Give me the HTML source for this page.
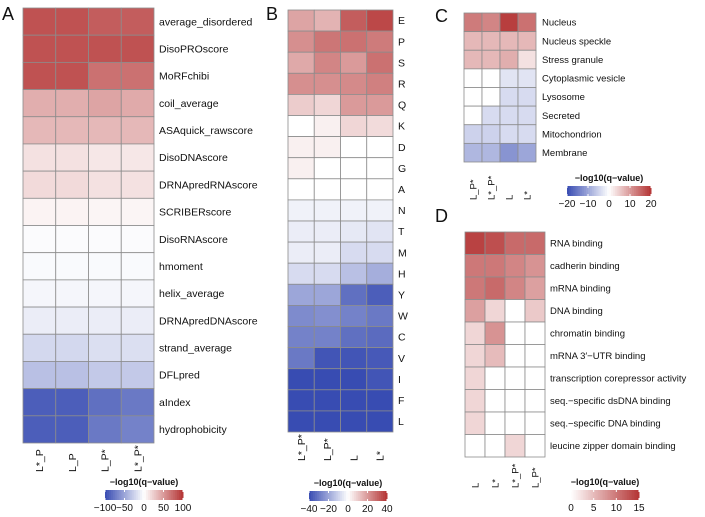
<!DOCTYPE html>
<html><head><meta charset="utf-8"><style>
body{margin:0;background:#fff;}
svg text{font-family:"Liberation Sans",sans-serif;}
</style></head><body>
<svg id="s" width="705" height="512" viewBox="0 0 705 512" xmlns="http://www.w3.org/2000/svg"></svg>
<script>
const aRows=["average_disordered","DisoPROscore","MoRFchibi","coil_average","ASAquick_rawscore","DisoDNAscore","DRNApredRNAscore","SCRIBERscore","DisoRNAscore","hmoment","helix_average","DRNApredDNAscore","strand_average","DFLpred","aIndex","hydrophobicity"];
const aCols=["L*_P","L_P","L_P*","L*_P*"];
const aVals=[[85,85,80,80],[85,85,85,85],[85,85,70,70],[40,40,45,42],[35,35,35,35],[15,15,12,12],[18,18,15,15],[6,6,5,5],[-2,-2,-2,-2],[-3,-3,-3,-3],[-5,-5,-5,-5],[-10,-10,-10,-10],[-22,-22,-18,-18],[-35,-35,-30,-30],[-90,-90,-80,-75],[-90,-90,-75,-70]];
const aTicks=[-100,-50,0,50,100];
const bRows=["E","P","S","R","Q","K","D","G","A","N","T","M","H","Y","W","C","V","I","F","L"];
const bCols=["L*_P*","L_P*","L","L*"];
const bVals=[[18,15,32,36],[22,27,28,26],[17,24,20,28],[22,22,23,25],[10,8,20,20],[0,3,8,7],[3,3,0,0],[3,0,0,0],[0,0,0,0],[-3,-3,-3,-3],[-4,-4,-5,-6],[-4,-4,-8,-8],[-8,-8,-14,-18],[-20,-20,-32,-36],[-26,-25,-28,-30],[-28,-28,-32,-33],[-30,-38,-38,-37],[-40,-40,-40,-38],[-40,-40,-40,-40],[-40,-40,-40,-40]];
const bTicks=[-40,-20,0,20,40];
const cRows=["Nucleus","Nucleus speckle","Stress granule","Cytoplasmic vesicle","Lysosome","Secreted","Mitochondrion","Membrane"];
const cCols=["L_P*","L*_P*","L","L*"];
const cVals=[[13,12,19,14],[7,7,7,7],[7,7,8,3],[0,0,-3,-3],[0,0,-4,-4],[0,-4,-4,-4],[-5,-5,-4,-4],[-8,-8,-12,-10]];
const cTicks=[-20,-10,0,10,20];
const dRows=["RNA binding","cadherin binding","mRNA binding","DNA binding","chromatin binding","mRNA 3\u2032\u2212UTR binding","transcription corepressor activity","seq.\u2212specific dsDNA binding","seq.\u2212specific DNA binding","leucine zipper domain binding"];
const dCols=["L","L*","L*_P*","L_P*"];
const dVals=[[14,13,11,11],[10,10,9,8],[10,11,9,7],[7,3,0,4],[3,8,0,0],[3,5,0,0],[3,0,0,0],[3,0,0,0],[3,0,0,0],[0,0,3,0]];
const dTicks=[0,5,10,15];

const NS="http://www.w3.org/2000/svg",S=document.getElementById('s');
function el(t,a,p){const e=document.createElementNS(NS,t);for(const k in a)e.setAttribute(k,a[k]);(p||S).appendChild(e);return e;}
function mix(a,b,t){return [0,1,2].map(i=>Math.round(a[i]+(b[i]-a[i])*t));}
const BLUE=[56,76,178],RED=[180,52,52],W=[255,255,255];
function col(v,max){let t=Math.max(-1,Math.min(1,v/max));const c=t<0?mix(W,BLUE,-t):mix(W,RED,t);return `rgb(${c})`;}

function heat(id,rows,cols,vals,x0,y0,w,h,fs,lblX,colorFn,xlabY){
  const g=el('g',{});
  
  
  const cw=w/cols.length,rh=h/rows.length;
  rows.forEach((r,i)=>{cols.forEach((c,j)=>{
    const rc=el('rect',{x:x0+j*cw,y:y0+i*rh,width:cw,height:rh,fill:colorFn(vals[i][j]),stroke:'#8c8c8c','stroke-width':0.8},g);
    
    
  });
  const t=el('text',{x:x0+w+lblX,y:y0+i*rh+rh/2+fs*0.35,'font-size':fs,fill:'#111'},g);t.textContent=r;
  
  });
  cols.forEach((c,j)=>{const cx=x0+j*cw+cw/2;
    const t=el('text',{x:cx+fs*0.35,y:xlabY,'font-size':fs,fill:'#111',transform:`rotate(-90 ${cx+fs*0.35} ${xlabY})`},g);t.textContent=c;
    
    });
}
function legend(id,x,y,w,ticks,colorFn,min,max){
  const g=el('g',{});
  
  
  const t=el('text',{x:x+w/2,y:y,'font-size':9,'font-weight':'bold','text-anchor':'middle',fill:'#111'},g);t.textContent='\u2212log10(q\u2212value)';
  const n=40;for(let i=0;i<n;i++){const v=min+(max-min)*(i+0.5)/n;el('rect',{x:x+i*w/n,y:y+5,width:w/n+0.5,height:10,fill:colorFn(v)},g);}
  ticks.forEach(tv=>{const tx=x+(tv-min)/(max-min)*w;el('line',{x1:tx,x2:tx,y1:y+5,y2:y+7,stroke:'#fff'},g);el('line',{x1:tx,x2:tx,y1:y+13,y2:y+15,stroke:'#fff'},g);
    const l=el('text',{x:tx,y:y+26,'font-size':10,'text-anchor':'middle',fill:'#111'},g);l.textContent=String(tv).replace('-','\u2212');});
}
function panel(l,x,y){const t=el('text',{x:x,y:y,'font-size':18,fill:'#111'});t.textContent=l;}

panel('A',2,20);panel('B',266,20);panel('C',435,22);panel('D',435,222);
heat('a',aRows,aCols,aVals,23,8,131,435,10.5,5,v=>col(v,100),472);
legend('a',105,485,78,aTicks,v=>col(v,100),-100,100);
heat('b',bRows,bCols,bVals,288,10,105,422,10.5,5,v=>col(v,40),461);
legend('b',309,486,78,bTicks,v=>col(v,40),-40,40);
heat('c',cRows,cCols,cVals,464,13,72,149,9.5,6,v=>col(v,20),200);
legend('c',567,181,84,cTicks,v=>col(v,20),-20,20);
heat('d',dRows,dCols,dVals,465,232,80,225,9.5,5,v=>col(v,15),488);
legend('d',571,485,68,dTicks,v=>col(v,15),0,15);
</script>
</body></html>
